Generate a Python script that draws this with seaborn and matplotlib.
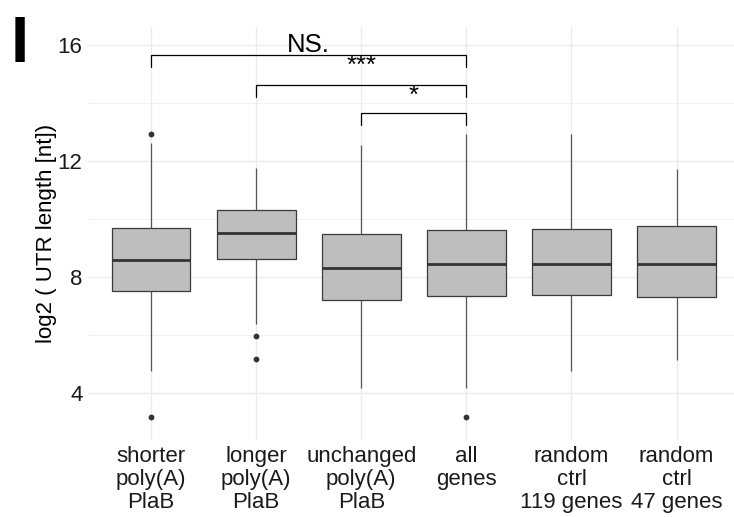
import matplotlib
matplotlib.use("Agg")
import matplotlib.pyplot as plt
import numpy as np
import pandas as pd
import seaborn as sns

# ---------------- data ----------------
categories = ["shorter\npoly(A)\nPlaB", "longer\npoly(A)\nPlaB", "unchanged\npoly(A)\nPlaB",
              "all\ngenes", "random\nctrl\n119 genes", "random\nctrl\n47 genes"]
# five-number summaries (log2 UTR length): whisker low, Q1, median, Q3, whisker high
whisker_low = [4.77, 6.37, 4.18, 4.18, 4.77, 5.14]
q1_values = [7.51, 8.61, 7.22, 7.36, 7.37, 7.31]
medians = [8.58, 9.51, 8.30, 8.46, 8.46, 8.46]
q3_values = [9.68, 10.30, 9.48, 9.62, 9.64, 9.75]
whisker_high = [12.61, 11.75, 12.55, 12.93, 12.93, 11.72]
# outliers
outlier_groups = [categories[0], categories[0], categories[1], categories[1], categories[3]]
outlier_values = [12.93, 3.18, 5.96, 5.17, 3.18]
# significance brackets (group index pairs) and labels
bracket_pairs = [(0, 3), (1, 3), (2, 3)]
bracket_labels = ["NS.", "***", "*"]
yticks = [4, 8, 12, 16]
ylabel = "log2 ( UTR length [nt])"
panel_tag = "I"

# ---------------- build tables ----------------
rows = []
for c, lo, a, m, b, hi in zip(categories, whisker_low, q1_values, medians, q3_values, whisker_high):
    for v in (lo, a, m, b, hi):
        rows.append({"group": c, "value": v})
box_df = pd.DataFrame(rows)
out_df = pd.DataFrame({"group": outlier_groups, "value": outlier_values})

# ---------------- style ----------------
sns.set_theme(style="white")
plt.rcParams["font.family"] = ["Liberation Sans", "DejaVu Sans"]

fig = plt.figure(figsize=(7.34, 5.17), dpi=100)
W, H = 734, 517
left_px, right_px, top_px, bot_px = 88, 739.6, 27, 440
ax = fig.add_axes([left_px / W, 1 - bot_px / H, (right_px - left_px) / W, (bot_px - top_px) / H])

# grid
ax.set_axisbelow(True)
for yv in [6, 10, 14]:
    ax.axhline(yv, color="#EBEBEB", lw=0.5, zorder=0)
for yv in yticks:
    ax.axhline(yv, color="#EBEBEB", lw=1.0, zorder=0)
for i in range(len(categories)):
    ax.axvline(i, color="#EBEBEB", lw=1.0, zorder=0)

sns.boxplot(data=box_df, x="group", y="value", order=categories, ax=ax,
            color="#BEBEBE", saturation=1, linecolor="#3a3a3a", linewidth=0.9,
            width=0.75, whis=(0, 100), showfliers=False, showcaps=False,
            medianprops={"linewidth": 2.0, "color": "#333333"},
            whiskerprops={"color": "#555555"})
sns.stripplot(data=out_df, x="group", y="value", order=categories, ax=ax,
              jitter=False, color="#333333", size=4.2, zorder=5)

# significance brackets
bracket_levels = [15.655, 14.62, 13.64]
drop = 0.41
label_offsets = [0.10, 0.42, 0.36]
for (i, j), lab, yb, off in zip(bracket_pairs, bracket_labels, bracket_levels, label_offsets):
    ax.plot([i, i, j, j], [yb - drop, yb, yb, yb - drop], color="black", lw=0.9,
            clip_on=False, zorder=6, solid_joinstyle="miter")
    ax.text((i + j) / 2, yb + off, lab, ha="center", va="baseline", fontsize=18.5,
            color="black", clip_on=False)

ax.set_xlim(-0.6, 5.6)
ax.set_ylim(2.38, 16.62)
ax.set_yticks(yticks)
ax.set_yticklabels([str(t) for t in yticks])
ax.set_xlabel("")
ax.set_ylabel(ylabel, fontsize=16, color="black")
ax.yaxis.set_label_coords(-0.048, 0.5)
ax.tick_params(axis="both", length=0, labelsize=16, labelcolor="#1a1a1a")
ax.tick_params(axis="y", pad=4)
ax.tick_params(axis="x", pad=4.5)
for lbl in ax.get_xticklabels():
    lbl.set_linespacing(1.12)
for s in ax.spines.values():
    s.set_visible(False)
ax.grid(False)

fig.text(10.8 / W, 1 - 61.5 / H, panel_tag, fontsize=47, fontweight="bold",
         ha="left", va="baseline", color="black")

fig.savefig("out.png", dpi=100)
